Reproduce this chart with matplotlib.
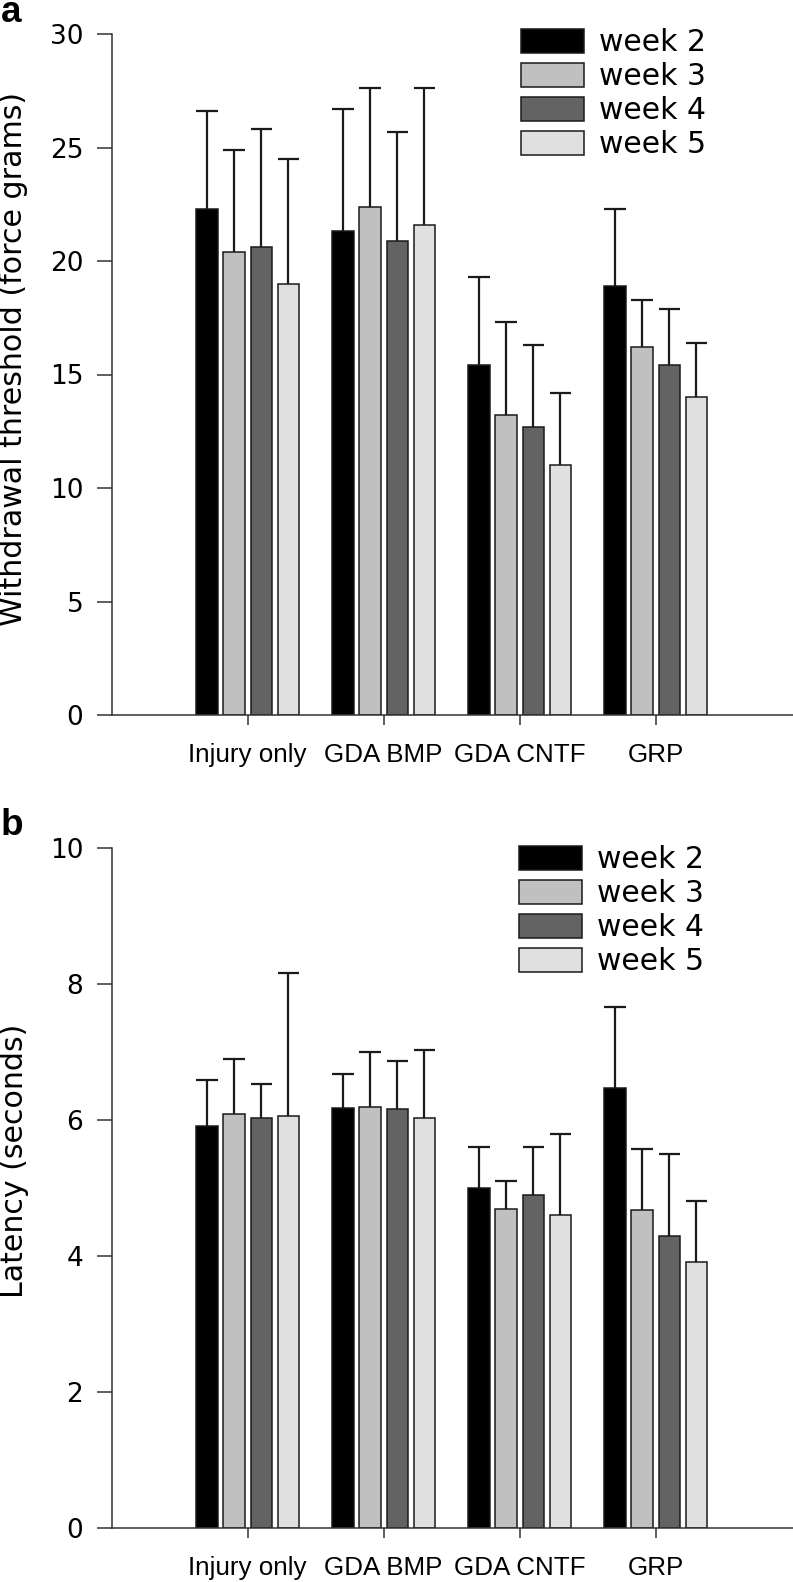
import matplotlib
matplotlib.use("Agg")
import matplotlib.pyplot as plt
import numpy as np

# ---------------- data ----------------
categories = ["Injury only", "GDA BMP", "GDA CNTF", "GRP"]
weeks = ["week 2", "week 3", "week 4", "week 5"]

# panel a: withdrawal threshold (force grams), mean and upper error
thr_mean = {
    "week 2": [22.3, 21.3, 15.4, 18.9],
    "week 3": [20.4, 22.4, 13.2, 16.2],
    "week 4": [20.6, 20.9, 12.7, 15.4],
    "week 5": [19.0, 21.6, 11.0, 14.0],
}
thr_err = {
    "week 2": [4.3, 5.4, 3.9, 3.4],
    "week 3": [4.5, 5.2, 4.1, 2.1],
    "week 4": [5.2, 4.8, 3.6, 2.5],
    "week 5": [5.5, 6.0, 3.2, 2.4],
}

# panel b: latency (seconds)
lat_mean = {
    "week 2": [5.90, 6.17, 4.99, 6.46],
    "week 3": [6.09, 6.19, 4.69, 4.67],
    "week 4": [6.03, 6.16, 4.89, 4.29],
    "week 5": [6.05, 6.03, 4.59, 3.91],
}
lat_err = {
    "week 2": [0.69, 0.50, 0.60, 1.20],
    "week 3": [0.80, 0.80, 0.40, 0.90],
    "week 4": [0.50, 0.70, 0.71, 1.20],
    "week 5": [2.10, 1.00, 1.20, 0.90],
}

thr_ticks = [0, 5, 10, 15, 20, 25, 30]
lat_ticks = [0, 2, 4, 6, 8, 10]

colors = ["#000000", "#c0c0c0", "#636363", "#e0e0e0"]
offsets = [-0.3, -0.1, 0.1, 0.3]
bar_w = 0.157

W, H = 793, 1582
fig = plt.figure(figsize=(W / 100, H / 100), dpi=100)

left_px = 111.7
ax_a = fig.add_axes([left_px / W, 1 - 715 / H, (W - left_px) / W, (715 - 34) / H])
ax_b = fig.add_axes([left_px / W, 1 - 1527.5 / H, (W - left_px) / W, (1527.5 - 847.7) / H])


def draw(ax, means, errs, ylim, yticks, ylabel, label_y, leg_anchor):
    x = np.arange(len(categories))
    for i, wk in enumerate(weeks):
        xs = x + offsets[i]
        m = np.array(means[wk])
        tops = m + np.array(errs[wk])
        ax.bar(xs, m, width=bar_w, color=colors[i], edgecolor="#1a1a1a",
               linewidth=1.1, label=wk, zorder=2)
        ax.vlines(xs, m, tops, colors="#1a1a1a", linewidth=1.6, zorder=3)
        ax.hlines(tops, xs - bar_w / 2, xs + bar_w / 2, colors="#1a1a1a",
                  linewidth=1.6, zorder=3)
    ax.set_xlim(-1.0, 4.01)
    ax.set_ylim(*ylim)
    ax.set_yticks(yticks)
    ax.set_yticklabels([str(t) for t in yticks], fontfamily="DejaVu Sans", fontsize=19)
    ax.set_xticks(x)
    ax.set_xticklabels(categories, fontfamily="Liberation Sans", fontsize=18.7)
    for s in ["top", "right"]:
        ax.spines[s].set_visible(False)
    for s in ["left", "bottom"]:
        ax.spines[s].set_color("#333333")
        ax.spines[s].set_linewidth(1.1)
    ax.tick_params(axis="y", length=10.5, width=1.1, color="#333333", pad=10)
    ax.tick_params(axis="x", length=7.5, width=1.1, color="#333333", pad=13)
    ax.set_ylabel(ylabel, fontfamily="DejaVu Sans", fontsize=21.6, va="center")
    ax.yaxis.set_label_coords((14 - left_px) / (W - left_px), label_y)
    leg = ax.legend(loc="upper left", bbox_to_anchor=leg_anchor,
                    bbox_transform=fig.transFigure, frameon=False,
                    prop={"family": "DejaVu Sans", "size": 21.5},
                    handlelength=2.1, handleheight=0.85, handletextpad=0.5,
                    labelspacing=0.17, borderpad=0, borderaxespad=0)
    return leg


draw(ax_a, thr_mean, thr_err, (0, 30), thr_ticks,
     "Withdrawal threshold (force grams)", 0.5228, (521 / W, 1 - 28 / H))
draw(ax_b, lat_mean, lat_err, (0, 10), lat_ticks,
     "Latency (seconds)", 0.540, (519 / W, 1 - 845 / H))

fig.text(0.5 / W, 1 - 22 / H, "a", fontfamily="Liberation Sans", fontweight="bold",
         fontsize=26.6, ha="left", va="baseline")
fig.text(0.5 / W, 1 - 835 / H, "b", fontfamily="Liberation Sans", fontweight="bold",
         fontsize=26.6, ha="left", va="baseline")

fig.savefig("out.png", dpi=100, facecolor="white")
